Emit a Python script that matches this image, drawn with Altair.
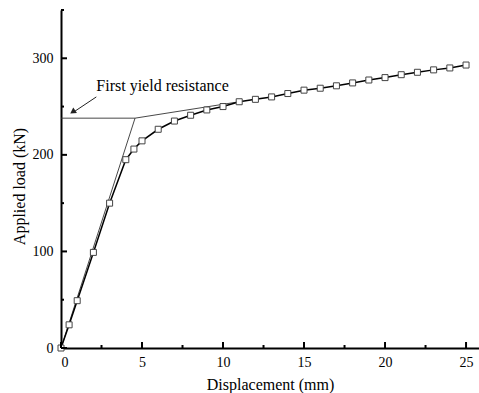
import altair as alt
import pandas as pd

# Measured load-displacement curve
disp = [0, 0.5, 1, 2, 3, 4, 4.5, 5, 6, 7, 8, 9, 10, 11, 12, 13, 14, 15, 16, 17,
        18, 19, 20, 21, 22, 23, 24, 25]
load = [0, 24, 49, 99, 150, 195, 206, 214.5, 226.5, 235, 241, 246.5, 250, 255,
        257.5, 260, 263.5, 267, 269, 271.5, 274.5, 277.5, 280, 283, 285.5, 288,
        290, 293]

# Idealised bilinear (first yield) lines
yield_x = [0, 4.57, 4.57, 0, 4.57, 11]
yield_y = [238, 238, 238, 0, 238, 255]
yield_seg = ["h", "h", "e", "e", "p", "p"]

# Annotation
ann_text = ["First yield resistance"]
ann_x = [2.18]
ann_y = [266]
arrow_x = [2.18, 0.75]
arrow_y = [260, 244]
head_x = [0.72]
head_y = [244.5]

# Ticks
x_major = [0, 5, 10, 15, 20, 25]
x_minor = [2.5, 7.5, 12.5, 17.5, 22.5]
y_major = [0, 100, 200, 300]
y_minor = [50, 150, 250, 350]

W, H = 418, 338
FONT = "Liberation Serif"

xs = alt.Scale(domain=[0, 25.8], nice=False, zero=False)
ys = alt.Scale(domain=[0, 350], nice=False, zero=False)

x_axis = alt.Axis(values=x_major, ticks=False, grid=False, domainColor="black",
                  domainWidth=2, labelFont=FONT, labelFontSize=14, labelColor="black",
                  labelPadding=7, title="Displacement (mm)", titleFont=FONT,
                  titleFontSize=16, titleFontWeight="normal", titleColor="black",
                  titleY=41, titleBaseline="alphabetic")
y_axis = alt.Axis(values=y_major, ticks=False, grid=False, domainColor="black",
                  domainWidth=2, labelFont=FONT, labelFontSize=14, labelColor="black",
                  labelPadding=8, title="Applied load (kN)", titleFont=FONT,
                  titleFontSize=16, titleFontWeight="normal", titleColor="black",
                  titleX=-42, titleY=176, titleAngle=-90, titleBaseline="middle",
                  titleAlign="center")

def X(field):
    return alt.X(field, type="quantitative", scale=xs, axis=x_axis)

def Y(field):
    return alt.Y(field, type="quantitative", scale=ys, axis=y_axis)

df = pd.DataFrame({"x": disp, "y": load})
ydf = pd.DataFrame({"x": yield_x, "y": yield_y, "seg": yield_seg,
                    "o": list(range(len(yield_x)))})

yield_lines = alt.Chart(ydf).mark_line(color="#333333", strokeWidth=0.9).encode(
    x=X("x"), y=Y("y"), detail="seg:N", order="o:Q")

curve = alt.Chart(df).mark_line(color="black", strokeWidth=1.5).encode(x=X("x"), y=Y("y"))
pts = alt.Chart(df).mark_point(shape="square", filled=True, fill="white",
                               stroke="#444444", strokeWidth=1, size=36,
                               opacity=1).encode(x=X("x"), y=Y("y"))

arrow_line = alt.Chart(pd.DataFrame({"x": arrow_x, "y": arrow_y})).mark_line(
    color="#222222", strokeWidth=1).encode(x=X("x"), y=Y("y"))
arrow_head = alt.Chart(pd.DataFrame({"x": head_x, "y": head_y})).mark_point(
    shape="triangle-up", filled=True, color="#222222", size=45, angle=237,
    opacity=1).encode(x=X("x"), y=Y("y"))
label = alt.Chart(pd.DataFrame({"x": ann_x, "y": ann_y, "t": ann_text})).mark_text(
    font=FONT, fontSize=16, align="left", baseline="alphabetic", color="black").encode(
    x=X("x"), y=Y("y"), text="t:N")

# inward tick marks
xmaj = alt.Chart(pd.DataFrame({"v": x_major})).mark_rule(color="black", strokeWidth=2).encode(
    x=X("v"), y=alt.value(H), y2=alt.value(H - 6))
xmin = alt.Chart(pd.DataFrame({"v": x_minor})).mark_rule(color="black", strokeWidth=2).encode(
    x=X("v"), y=alt.value(H), y2=alt.value(H - 3))
ymaj = alt.Chart(pd.DataFrame({"v": y_major})).mark_rule(color="black", strokeWidth=2).encode(
    y=Y("v"), x=alt.value(0), x2=alt.value(6))
ymin = alt.Chart(pd.DataFrame({"v": y_minor})).mark_rule(color="black", strokeWidth=2).encode(
    y=Y("v"), x=alt.value(0), x2=alt.value(3))

chart = alt.layer(yield_lines, curve, pts, arrow_line, arrow_head, label,
                  xmaj, xmin, ymaj, ymin).properties(
    width=W, height=H,
    autosize=alt.AutoSizeParams(type="none"),
    padding={"left": 61, "top": 10, "right": 0, "bottom": 45},
    background="white",
).configure_view(stroke=None)

chart.save("out.html", embed_options={"renderer": "svg", "actions": False})
